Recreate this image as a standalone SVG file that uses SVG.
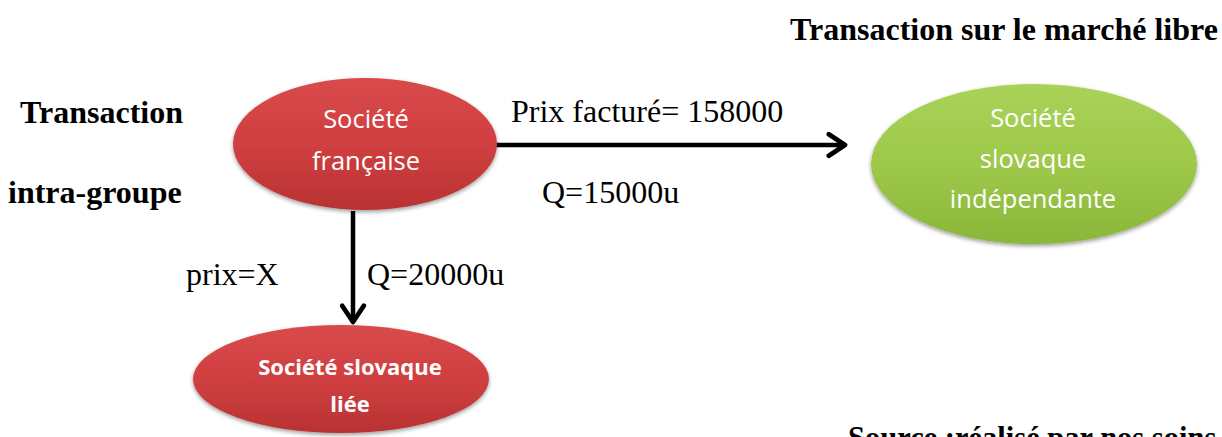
<svg xmlns="http://www.w3.org/2000/svg" width="1222" height="437" viewBox="0 0 1222 437">
<defs>
<linearGradient id="gr" x1="0" y1="0" x2="0" y2="1">
<stop offset="0" stop-color="#d94a4b"/><stop offset="0.5" stop-color="#d03f40"/><stop offset="1" stop-color="#b93233"/>
</linearGradient>
<linearGradient id="gg" x1="0" y1="0" x2="0" y2="1">
<stop offset="0" stop-color="#a9d258"/><stop offset="0.5" stop-color="#9ec84a"/><stop offset="1" stop-color="#8ab73a"/>
</linearGradient>
<filter id="sh" x="-10%" y="-10%" width="120%" height="130%">
<feGaussianBlur in="SourceAlpha" stdDeviation="2"/>
<feOffset dy="2"/>
<feComponentTransfer><feFuncA type="linear" slope="0.4"/></feComponentTransfer>
<feMerge><feMergeNode/><feMergeNode in="SourceGraphic"/></feMerge>
</filter>
<marker id="ah" viewBox="0 0 20 20" refX="16" refY="10" markerWidth="6" markerHeight="6" markerUnits="strokeWidth" orient="auto">
<path d="M4,2 L16,10 L4,18" fill="none" stroke="#000" stroke-width="3.5" stroke-linecap="round" stroke-linejoin="round"/>
</marker>
</defs>
<style>
.lbl{font-family:"Liberation Serif","Times New Roman",serif;font-size:32px;fill:#000}
.b{font-weight:bold}
.nt{font-family:"Open Sans","Liberation Sans",sans-serif;font-size:25.5px;fill:#fff;text-anchor:middle}
.nb{font-weight:bold;font-size:22px}
.conn{stroke:#000;stroke-width:4.5;fill:none}
</style>
<rect width="1222" height="437" fill="#fff"/>
<g id="connectors">
<line class="conn" x1="496" y1="145" x2="845" y2="145" marker-end="url(#ah)"/>
<line class="conn" x1="353" y1="211" x2="353" y2="322" marker-end="url(#ah)"/>
</g>
<g id="societe-francaise">
<ellipse cx="365" cy="144" rx="132" ry="66" fill="url(#gr)" filter="url(#sh)"/>
<text class="nt" x="366" y="128">Société</text>
<text class="nt" x="366" y="170">française</text>
</g>
<g id="societe-slovaque-independante">
<ellipse cx="1034" cy="164" rx="163" ry="80" fill="url(#gg)" filter="url(#sh)"/>
<text class="nt" x="1033" y="127">Société</text>
<text class="nt" x="1033" y="168">slovaque</text>
<text class="nt" x="1033" y="208">indépendante</text>
</g>
<g id="societe-slovaque-liee">
<ellipse cx="341" cy="379" rx="148" ry="54" fill="url(#gr)" filter="url(#sh)"/>
<text class="nt nb" x="350" y="375">Société slovaque</text>
<text class="nt nb" x="350" y="412">liée</text>
</g>
<g id="labels">
<text class="lbl b" x="20" y="123">Transaction</text>
<text class="lbl b" x="8" y="203">intra-groupe</text>
<text class="lbl b" x="790" y="40">Transaction sur le marché libre</text>
<text class="lbl" x="511" y="122">Prix facturé= 158000</text>
<text class="lbl" x="542" y="203">Q=15000u</text>
<text class="lbl" x="186" y="285">prix=X</text>
<text class="lbl" x="367" y="285">Q=20000u</text>
<text class="lbl b" x="848" y="448" style="font-size:30.5px">Source :réalisé par nos soins</text>
</g>
</svg>
